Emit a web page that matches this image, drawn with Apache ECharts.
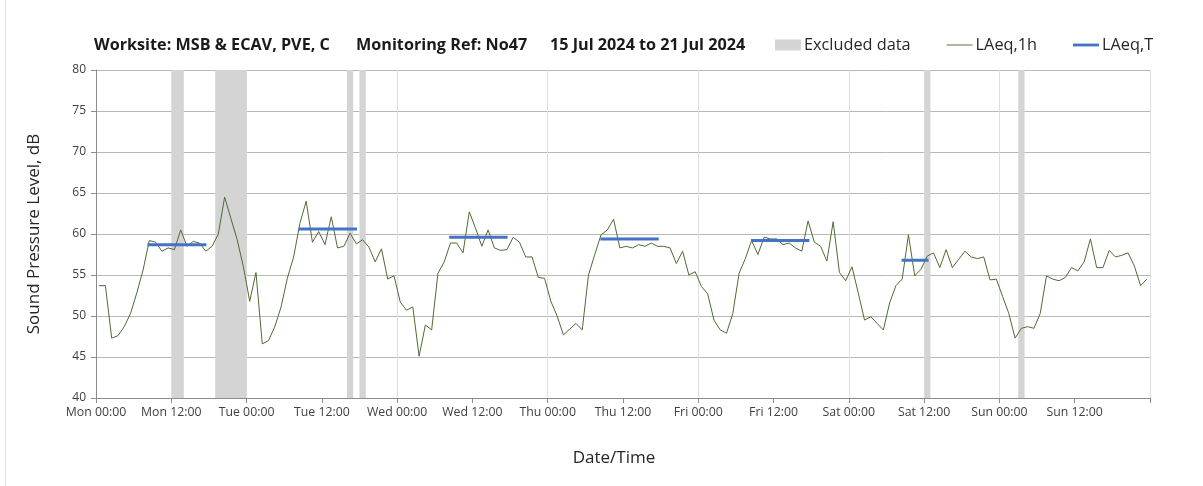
<!DOCTYPE html>
<html>
<head>
<meta charset="utf-8">
<script src="https://cdn.jsdelivr.net/npm/echarts@6/dist/echarts.min.js"></script>
<style>
  html, body { margin: 0; padding: 0; background: #fff; }
  #chart { width: 1203px; height: 486px; }
</style>
</head>
<body>
<div id="chart"></div>
<script>
// hourly LAeq,1h values, Mon 00:00 .. Sun 23:00 (one per hour)
var laeq1h = [
  53.7, 53.7, 47.3, 47.6, 48.7, 50.3, 52.8, 55.6, 59.2, 59.0, 57.9, 58.3,
  58.1, 60.5, 58.5, 59.1, 58.9, 57.9, 58.5, 60.0, 64.5, 61.9, 59.3, 56.0,
  51.8, 55.3, 46.6, 47.0, 48.7, 51.1, 54.6, 57.2, 61.3, 64.0, 59.0, 60.3,
  58.7, 62.1, 58.3, 58.5, 60.1, 58.8, 59.3, 58.4, 56.6, 58.2, 54.5, 54.9,
  51.7, 50.7, 51.1, 45.1, 48.9, 48.3, 55.2, 56.6, 58.9, 58.9, 57.7, 62.7,
  60.7, 58.5, 60.5, 58.3, 58.0, 58.1, 59.6, 59.0, 57.2, 57.2, 54.7, 54.6,
  51.8, 50.0, 47.7, 48.4, 49.1, 48.3, 55.0, 57.5, 59.9, 60.5, 61.8, 58.3,
  58.5, 58.3, 58.7, 58.5, 58.9, 58.5, 58.5, 58.3, 56.4, 57.9, 55.0, 55.4,
  53.6, 52.7, 49.5, 48.3, 47.9, 50.3, 55.2, 57.0, 59.2, 57.5, 59.6, 59.4,
  59.4, 58.7, 58.9, 58.3, 57.9, 61.6, 59.0, 58.5, 56.7, 61.5, 55.3, 54.3,
  56.0, 52.8, 49.5, 49.9, 49.1, 48.3, 51.6, 53.7, 54.5, 59.9, 54.9, 55.7,
  57.3, 57.7, 55.9, 58.1, 55.9, 56.9, 57.9, 57.2, 57.0, 57.2, 54.4, 54.5,
  52.4, 50.3, 47.3, 48.5, 48.7, 48.5, 50.3, 54.9, 54.5, 54.3, 54.7, 55.9,
  55.5, 56.6, 59.4, 55.9, 55.9, 58.0, 57.2, 57.4, 57.7, 56.1, 53.7, 54.5
];

// LAeq,T daytime periods (hours from Mon 00:00) and levels
var periodStart = [8.2, 32.3, 56.3, 80.4, 104.4, 128.4];
var periodEnd   = [17.6, 41.6, 65.6, 89.7, 113.7, 132.7];
var periodLevel = [58.7, 60.6, 59.6, 59.4, 59.2, 56.8];

// excluded data periods (hours from Mon 00:00)
var excludedStart = [12, 19, 40, 42, 132, 147];
var excludedEnd   = [14, 24, 41, 43, 133, 148];

var dayNames = ['Mon', 'Tue', 'Wed', 'Thu', 'Fri', 'Sat', 'Sun'];
var yTicks = [40, 45, 50, 55, 60, 65, 70, 75, 80];

var FONT = '"Open Sans", Lato, sans-serif';
var myChart = echarts.init(document.getElementById('chart'));

var series = [{
  name: 'Excluded data',
  type: 'bar',
  data: [],
  itemStyle: { color: '#d4d4d4' },
  markArea: {
    silent: true,
    itemStyle: { color: '#d4d4d4' },
    data: excludedStart.map(function (s, i) {
      return [{ xAxis: s }, { xAxis: excludedEnd[i] }];
    })
  },
  z: 1
}, {
  name: 'LAeq,1h',
  type: 'line',
  symbol: 'none',
  data: laeq1h.map(function (v, i) { return [i + 0.5, v]; }),
  lineStyle: { color: '#4f6a33', width: 1 },
  itemStyle: { color: '#4f6a33' },
  z: 3
}];

periodStart.forEach(function (s, i) {
  series.push({
    name: 'LAeq,T',
    type: 'line',
    symbol: 'none',
    data: [[s, periodLevel[i]], [periodEnd[i], periodLevel[i]]],
    lineStyle: { color: '#4472c4', width: 3 },
    itemStyle: { color: '#4472c4' },
    z: 4
  });
});

var option = {
  animation: false,
  textStyle: { fontFamily: FONT },
  title: [
    { text: 'Worksite: MSB & ECAV, PVE, C', left: 89, top: 32 },
    { text: 'Monitoring Ref: No47', left: 351, top: 32 },
    { text: '15 Jul 2024 to 21 Jul 2024', left: 545, top: 32 }
  ].map(function (t) {
    t.textStyle = { fontFamily: FONT, fontSize: 16.2, fontWeight: 'bold', color: '#1a1a1a' };
    return t;
  }),
  legend: {
    top: 37,
    left: 775,
    padding: 0,
    itemGap: 36,
    itemWidth: 26,
    itemHeight: 11,
    textStyle: { fontFamily: FONT, fontSize: 16.3, color: '#262626', padding: [0, 0, 0, -2] },
    data: [
      { name: 'Excluded data', icon: 'rect' },
      { name: 'LAeq,1h', icon: 'path://M0,0 L28,0 L28,1 L0,1 Z' },
      { name: 'LAeq,T', icon: 'path://M0,0 L28,0 L28,3 L0,3 Z' }
    ]
  },
  grid: { left: 96, right: 53, top: 70, bottom: 88 },
  xAxis: [{
    type: 'value',
    min: 0,
    max: 168,
    interval: 12,
    name: 'Date/Time',
    nameLocation: 'middle',
    nameGap: 52,
    nameTextStyle: { fontFamily: FONT, fontSize: 17, color: '#262626', padding: [0, 18, 0, 0] },
    axisLine: { lineStyle: { color: '#8c8c8c' } },
    axisTick: { length: 5, lineStyle: { color: '#8c8c8c' } },
    axisLabel: {
      fontFamily: FONT, fontSize: 12.3, color: '#404040', margin: 8,
      formatter: function (v) {
        if (v >= 168) return '';
        return dayNames[Math.floor(v / 24)] + ' ' + (v % 24 === 0 ? '00:00' : '12:00');
      }
    },
    splitLine: { show: false }
  }, {
    type: 'value',
    min: 0,
    max: 168,
    interval: 24,
    position: 'top',
    axisLine: { show: false },
    axisTick: { show: false },
    axisLabel: { show: false },
    splitLine: { show: true, lineStyle: { color: '#dedede' } }
  }],
  yAxis: {
    type: 'value',
    min: yTicks[0],
    max: yTicks[yTicks.length - 1],
    interval: 5,
    name: 'Sound Pressure Level, dB',
    nameLocation: 'middle',
    nameGap: 53,
    nameTextStyle: { fontFamily: FONT, fontSize: 17, color: '#262626' },
    axisLine: { show: true, lineStyle: { color: '#8c8c8c' } },
    axisTick: { show: true, length: 5, lineStyle: { color: '#8c8c8c' } },
    axisLabel: { fontFamily: FONT, fontSize: 12, color: '#404040', margin: 10 },
    splitLine: { lineStyle: { color: '#b8b8b8' } }
  },
  graphic: [{
    type: 'line',
    shape: { x1: 5.5, y1: 0, x2: 5.5, y2: 486 },
    style: { stroke: '#e0e0e0', lineWidth: 1 }
  }],
  series: series
};

myChart.setOption(option);
</script>
</body>
</html>
